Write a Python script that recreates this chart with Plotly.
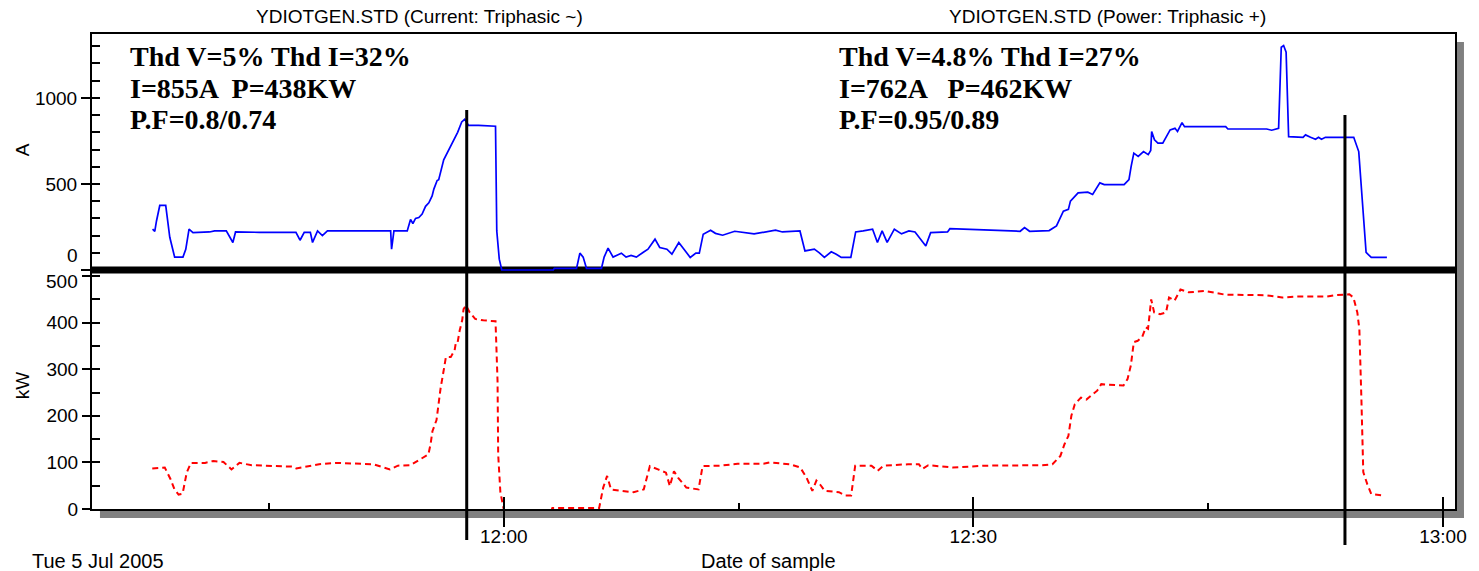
import pandas as pd
import plotly.graph_objects as go

# ---- recorded samples (minutes after 11:00 on the sample day) ----
amp_min = [37.56, 37.70, 37.81, 38.02, 38.40, 38.49, 38.66, 38.97, 39.50, 39.68, 39.89, 40.14,
           41.20, 41.52, 42.27, 42.69, 42.86, 44.39, 46.72, 46.98, 47.25, 47.64, 47.78, 48.10,
           48.41, 48.73, 50.75, 52.77, 52.83, 52.98, 53.83, 54.04, 54.19, 54.36, 54.57, 54.78,
           55.00, 55.21, 55.42, 55.53, 55.74, 55.84, 56.16, 56.48, 56.80, 57.05, 57.31, 57.50,
           57.75, 58.39, 59.47, 59.55, 59.71, 59.87, 63.16, 63.23, 64.65, 64.86, 65.07, 65.28,
           66.24, 66.41, 66.66, 66.98, 67.51, 67.81, 68.13, 68.47, 68.89, 69.21, 69.66, 69.96,
           70.42, 70.74, 71.18, 71.50, 71.91, 72.27, 72.49, 72.74, 73.21, 73.52, 73.98, 74.75,
           75.99, 77.36, 77.80, 78.92, 79.24, 79.84, 80.16, 80.48, 80.92, 81.24, 81.56, 82.17,
           82.48, 82.96, 83.56, 83.87, 84.17, 84.49, 84.95, 85.41, 85.88, 86.27, 86.65, 86.96,
           87.27, 88.35, 88.50, 91.43, 92.99, 93.27, 93.59, 94.84, 95.31, 95.75, 96.07, 96.20,
           96.69, 97.31, 97.62, 98.08, 98.36, 99.63, 99.94, 100.08, 100.25, 100.53, 100.87, 101.17,
           101.33, 101.39, 101.57, 101.79, 102.10, 102.57, 102.88, 103.04, 103.33, 103.49, 106.12, 106.26,
           108.74, 109.06, 109.50, 109.67, 109.82, 109.98, 110.14, 111.06, 111.22, 111.54, 111.86, 112.05,
           112.24, 112.49, 114.30, 114.62, 114.72, 114.83, 115.00, 115.09, 115.42, 116.42]
amp_val = [237, 225, 285, 375, 375, 305, 190, 75, 75, 120, 237, 217,
           221, 227, 227, 160, 221, 219, 219, 173, 219, 219, 160, 227,
           200, 227, 227, 227, 121, 227, 227, 294, 270, 300, 305, 325,
           370, 390, 430, 470, 520, 525, 640, 700, 750, 800, 860, 875,
           840, 840, 835, 227, 63, 0, 0, 10, 10, 98, 75, 10,
           10, 75, 127, 75, 98, 75, 85, 75, 102, 121, 179, 131,
           121, 92, 160, 121, 73, 98, 98, 208, 231, 213, 202, 225,
           210, 231, 221, 227, 111, 121, 100, 73, 106, 92, 73, 73,
           221, 227, 237, 160, 227, 160, 237, 210, 227, 221, 179, 140,
           217, 221, 240, 233, 225, 246, 225, 229, 256, 342, 352, 400,
           448, 452, 439, 506, 496, 496, 525, 602, 679, 660, 688, 670,
           694, 804, 756, 737, 737, 814, 823, 805, 856, 833, 833, 819,
           819, 812, 823, 1294, 1304, 1265, 775, 771, 785, 771, 760, 771,
           760, 771, 771, 688, 564, 371, 198, 102, 73, 73]

kw_min = [37.54, 38.34, 38.71, 38.96, 39.22, 39.48, 39.74, 40.01, 40.91, 41.43, 42.09, 42.60,
          43.11, 43.90, 46.49, 46.74, 47.70, 48.20, 49.35, 51.68, 52.72, 53.23, 54.02, 54.79,
          55.18, 55.32, 55.44, 55.70, 55.83, 55.96, 56.14, 56.30, 56.61, 56.86, 56.94, 57.05,
          57.18, 57.34, 57.43, 57.59, 57.82, 58.17, 58.69, 59.47, 59.60, 59.64, 59.78, 59.93,
          60.01, 63.04, 63.10, 66.09, 66.35, 66.60, 66.85, 67.51, 68.29, 68.94, 69.33, 69.85,
          70.36, 70.61, 70.87, 71.14, 71.66, 72.44, 72.70, 73.79, 74.94, 76.59, 76.98, 78.29,
          78.94, 79.33, 79.71, 79.97, 80.22, 80.50, 81.41, 81.80, 82.19, 82.45, 83.49, 83.88,
          84.26, 85.82, 86.52, 86.73, 87.12, 88.69, 90.76, 94.40, 95.05, 95.56, 95.82, 96.07,
          96.26, 96.48, 96.87, 97.22, 97.52, 97.91, 98.17, 99.59, 99.85, 100.06, 100.25, 100.50,
          100.78, 101.02, 101.16, 101.36, 101.55, 101.93, 102.31, 102.50, 102.85, 103.23, 103.76, 104.79,
          106.09, 108.68, 109.73, 110.59, 112.58, 113.13, 114.02, 114.28, 114.53, 114.66, 114.79, 114.91,
          115.17, 115.42, 116.23]
kw_val = [90, 92, 67, 45, 34, 36, 81, 102, 102, 106, 104, 88,
          102, 97, 94, 90, 96, 99, 102, 99, 88, 96, 97, 113,
          120, 142, 170, 194, 234, 262, 297, 329, 329, 344, 361, 361,
          386, 408, 432, 440, 425, 411, 408, 406, 277, 120, 39, 13,
          0, 0, 5, 5, 49, 74, 45, 42, 39, 45, 95, 88,
          81, 52, 84, 70, 49, 45, 95, 96, 100, 100, 103, 99,
          92, 71, 42, 64, 55, 42, 39, 32, 32, 96, 96, 85,
          96, 99, 99, 89, 97, 92, 96, 97, 99, 117, 142, 160,
          203, 228, 242, 238, 246, 257, 271, 268, 282, 311, 361, 364,
          372, 393, 390, 453, 425, 421, 425, 457, 450, 474, 468, 471,
          463, 462, 457, 459, 459, 462, 464, 457, 425, 389, 239, 82,
          56, 35, 32]

# measurement cursors (minutes after 11:00)
cursor_min = [57.63, 113.74]

major_ticks = ["12:00", "12:30", "13:00"]
minor_ticks = ["11:45", "12:15", "12:45"]
amp_ticks = [0, 500, 1000]
kw_ticks = [0, 100, 200, 300, 400, 500]

titles = ["YDIOTGEN.STD (Current: Triphasic ~)", "YDIOTGEN.STD (Power: Triphasic +)"]
left_notes = ["Thd V=5% Thd I=32%", "I=855A  P=438KW", "P.F=0.8/0.74"]
right_notes = ["Thd V=4.8% Thd I=27%", "I=762A   P=462KW", "P.F=0.95/0.89"]

DAY = pd.Timestamp("2005-07-05 11:00:00")


def at(mins):
    return DAY + pd.to_timedelta(pd.Series(mins, dtype=float), unit="min")


def clock(hm):
    return pd.Timestamp(f"2005-07-05 {hm}:00")


# ---- page geometry (pixels) ----
W, H = 1479, 571
L, R, T, B = 92, 19, 34, 62
PW, PH = W - L - R, H - T - B
SPLIT_PX = 270


def px_x(p):
    return (p - L) / PW


def px_y(p):
    return (H - B - p) / PH


split = px_y(SPLIT_PX)
top_floor = px_y(274)          # current panel reaches slightly under the divider
x_range = [DAY + pd.Timedelta(minutes=33.69), DAY + pd.Timedelta(minutes=120.77)]
amp_range = [-23.2, 1371]
kw_range = [3, 516]            # data axis: zero sits just under the frame line
kw_tick_range = [0, 513]       # scale used for the kW tick marks and labels

SANS = "Liberation Sans, Arial, sans-serif"
SERIF = "Liberation Serif, Times New Roman, serif"
tick_font = dict(family=SANS, size=19, color="black")

fig = go.Figure()

fig.add_trace(go.Scatter(x=at(amp_min), y=amp_val, xaxis="x2", yaxis="y2", mode="lines",
                         line=dict(color="#0000ff", width=1.7), showlegend=False))
fig.add_trace(go.Scatter(x=at(kw_min), y=kw_val, xaxis="x", yaxis="y", mode="lines",
                         line=dict(color="#ff0000", width=2, dash="6px,4px"), showlegend=False))
# empty traces that bring the tick-only overlay axes to life
for xa, ya in [("x3", "y3"), ("x3", "y5"), ("x4", "y4")]:
    fig.add_trace(go.Scatter(x=[None], y=[None], xaxis=xa, yaxis=ya, showlegend=False, hoverinfo="skip"))

axis_common = dict(showgrid=False, zeroline=False, linecolor="black", tickcolor="black")

fig.update_layout(
    width=W, height=H,
    margin=dict(l=L, r=R, t=T, b=B, pad=0),
    paper_bgcolor="white", plot_bgcolor="rgba(0,0,0,0)",
    showlegend=False,
    xaxis=dict(axis_common, type="date", domain=[0, 1], anchor="y", range=x_range,
               tickmode="array", tickvals=[clock(t) for t in major_ticks], ticktext=major_ticks,
               ticks="outside", ticklen=16, tickwidth=2, tickfont=tick_font, ticklabelstandoff=-7,
               showline=True, linewidth=2),
    xaxis2=dict(axis_common, type="date", domain=[0, 1], anchor="y2", range=x_range, matches="x",
                side="top", showticklabels=False, ticks="", showline=True, linewidth=2),
    xaxis3=dict(axis_common, type="date", overlaying="x", anchor="y3", range=x_range,
                tickmode="array", tickvals=[clock(t) for t in major_ticks],
                ticks="inside", ticklen=12, tickwidth=2, showticklabels=False, showline=False,
                minor=dict(tickmode="array", tickvals=[clock(t) for t in minor_ticks],
                           ticks="inside", ticklen=6, tickwidth=2, tickcolor="black", showgrid=False)),
    xaxis4=dict(axis_common, type="date", overlaying="x2", anchor="y4", range=x_range,
                showticklabels=False, ticks="", showline=False),
    # kW panel: data axis carries the frame lines, overlays carry the ticks
    yaxis=dict(axis_common, domain=[0, split], anchor="x", range=kw_range,
               ticks="", showticklabels=False, showline=True, linewidth=2, mirror=True),
    yaxis3=dict(axis_common, overlaying="y", anchor="x3", range=kw_tick_range,
                tickmode="array", tickvals=kw_ticks, ticktext=["0", "100", "200", "300", "400", ""],
                ticks="outside", ticklen=9, tickwidth=2,
                tickfont=tick_font, showline=False),
    yaxis5=dict(axis_common, overlaying="y", anchor="x3", range=kw_tick_range,
                tickmode="linear", tick0=0, dtick=50, ticks="inside", ticklen=8, tickwidth=2,
                showticklabels=False, showline=False),
    # current panel
    yaxis2=dict(axis_common, domain=[top_floor, 1], anchor="x2", range=amp_range,
                tickmode="array", tickvals=amp_ticks, ticktext=["", "500", "1000"],
                ticks="outside", ticklen=9, tickwidth=2,
                tickfont=tick_font, showline=True, linewidth=2, mirror=True),
    yaxis4=dict(axis_common, overlaying="y2", anchor="x4", range=amp_range,
                tickmode="linear", tick0=0, dtick=100, ticks="inside", ticklen=8, tickwidth=2,
                showticklabels=False, showline=False),
)

shapes = [
    # drop shadow of the chart frame
    dict(type="rect", xref="paper", yref="paper", x0=px_x(1461), x1=px_x(1469),
         y0=px_y(518), y1=px_y(42), fillcolor="#808080", line=dict(width=0), layer="below"),
    dict(type="rect", xref="paper", yref="paper", x0=px_x(100), x1=px_x(1469),
         y0=px_y(518), y1=px_y(510), fillcolor="#808080", line=dict(width=0), layer="below"),
    # heavy divider between the current and power panels
    dict(type="line", xref="paper", yref="paper", x0=0, x1=1, y0=split, y1=split,
         line=dict(color="black", width=7), layer="below"),
]
cursor_span = [(540, 110), (545, 115)]
for m, (lo, hi) in zip(cursor_min, cursor_span):
    t = DAY + pd.Timedelta(minutes=m)
    shapes.append(dict(type="line", xref="x", yref="paper", x0=t, x1=t,
                       y0=px_y(lo), y1=px_y(hi), line=dict(color="black", width=3), layer="above"))
fig.update_layout(shapes=shapes)

ann = []
for text, cx in zip(titles, [421, 1111]):
    ann.append(dict(text=text, x=px_x(cx), y=px_y(16), xref="paper", yref="paper",
                    xanchor="center", yanchor="middle", showarrow=False,
                    font=dict(family=SANS, size=19, color="black")))
for notes, lx in [(left_notes, 128), (right_notes, 840)]:
    for line, cy in zip(notes, [57, 88, 119]):
        ann.append(dict(text=f"<b>{line}</b>", x=px_x(lx), y=px_y(cy), xref="paper", yref="paper",
                        xanchor="left", yanchor="middle", showarrow=False,
                        font=dict(family=SERIF, size=28, color="black")))
# the two scale labels that meet at the divider are nudged apart
for text, cy in [("0", 256), ("500", 281)]:
    ann.append(dict(text=text, x=px_x(80), y=px_y(cy), xref="paper", yref="paper",
                    xanchor="right", yanchor="middle", showarrow=False, font=tick_font))
for text, cy in [("A", 150), ("kW", 385)]:
    ann.append(dict(text=text, x=px_x(22), y=px_y(cy), xref="paper", yref="paper",
                    xanchor="center", yanchor="middle", textangle=-90, showarrow=False,
                    font=dict(family=SANS, size=19, color="black")))
ann.append(dict(text="Tue 5 Jul 2005", x=px_x(30), y=px_y(561), xref="paper", yref="paper",
                xanchor="left", yanchor="middle", showarrow=False,
                font=dict(family=SANS, size=20, color="black")))
ann.append(dict(text="Date of sample", x=px_x(771), y=px_y(561), xref="paper", yref="paper",
                xanchor="center", yanchor="middle", showarrow=False,
                font=dict(family=SANS, size=20, color="black")))
fig.update_layout(annotations=ann)

fig.write_html("out.html")
